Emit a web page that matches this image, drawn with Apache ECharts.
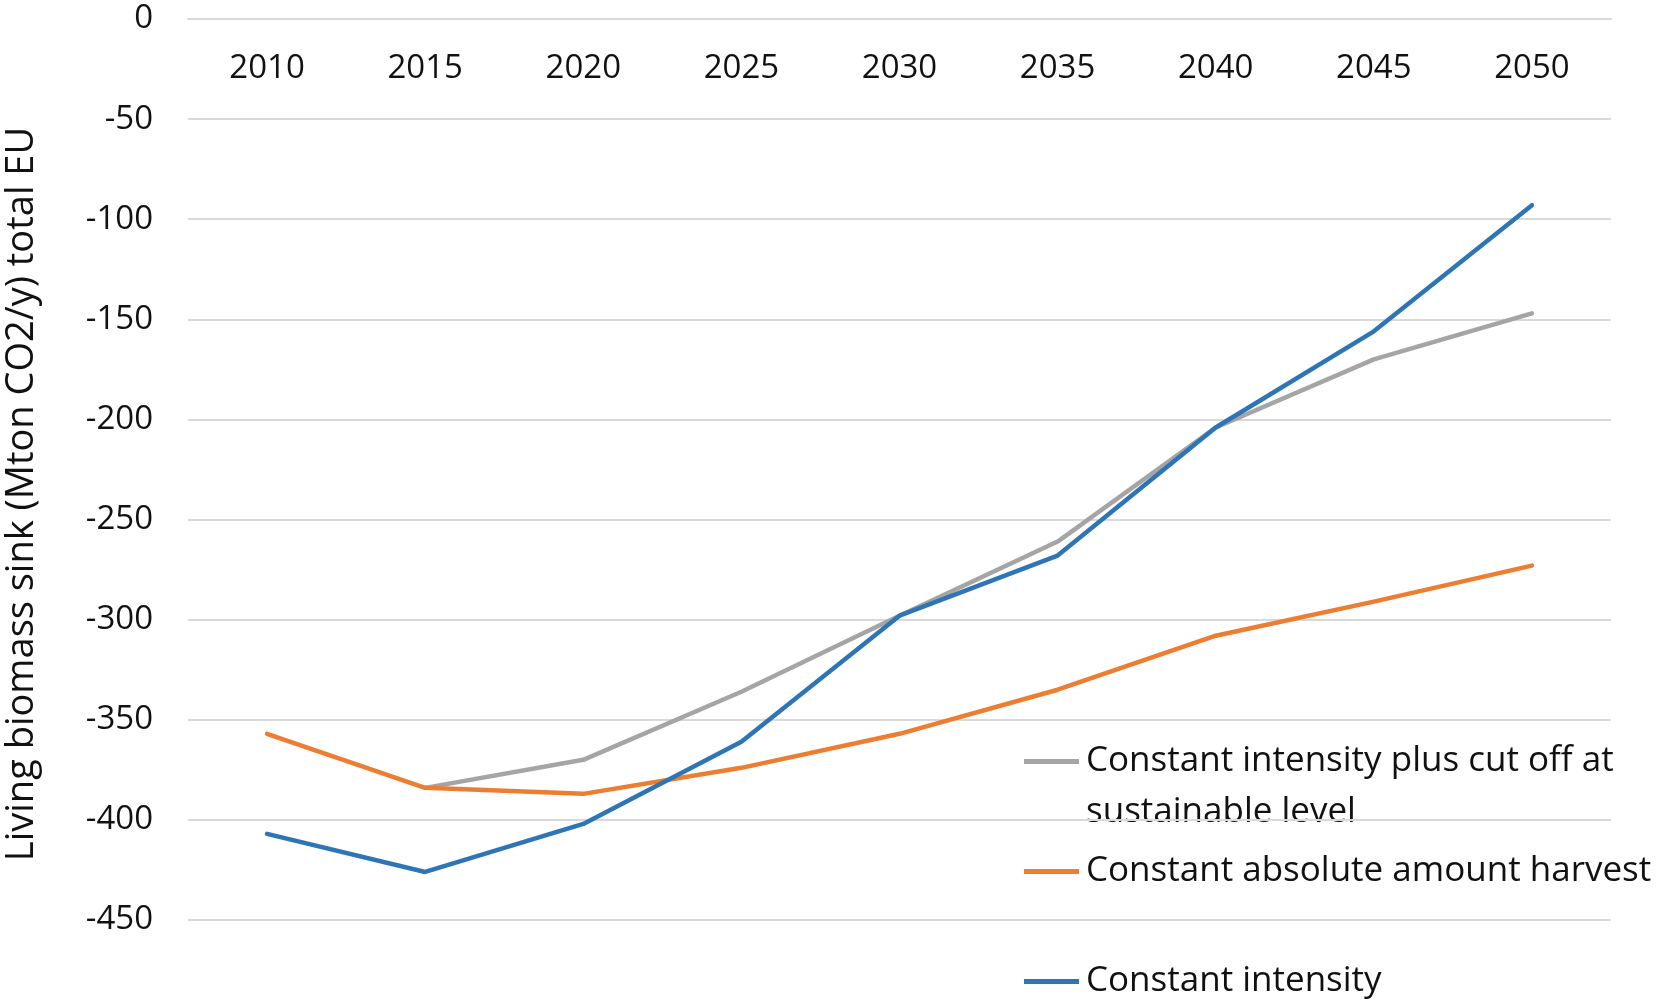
<!DOCTYPE html>
<html>
<head>
<meta charset="utf-8">
<script src="https://cdn.jsdelivr.net/npm/echarts@6/dist/echarts.min.js"></script>
<style>
html,body{margin:0;padding:0;background:#fff;}
#chart{width:1659px;height:1006px;}
</style>
</head>
<body>
<div id="chart"></div>
<script>
var years = ['2010','2015','2020','2025','2030','2035','2040','2045','2050'];
var seriesNames = ['Constant intensity plus cut off at sustainable level','Constant absolute amount harvest','Constant intensity'];
var cutOff = [null, -384, -370, -336, -298, -261, -204, -170, -147];
var absoluteHarvest = [-357, -384, -387, -374, -357, -335, -308, -291, -273];
var constantIntensity = [-407, -426, -402, -361, -298, -268, -204, -156, -93];
var yTicks = {min: -450, max: 0, interval: 50};
var yTitle = 'Living biomass sink (Mton CO2/y) total EU';

var FONT = '"Open Sans"';
var chart = echarts.init(document.getElementById('chart'), null, {renderer: 'canvas'});
function mk(name, data, color) {
  return {
    name: name, type: 'line', data: data, symbol: 'none', smooth: false,
    connectNulls: false,
    lineStyle: {color: color, width: 4.5, cap: 'round', join: 'round'},
    itemStyle: {color: color}
  };
}
chart.setOption({
  animation: false,
  backgroundColor: '#ffffff',
  grid: {left: 188, right: 48, top: 19, bottom: 86, containLabel: false},
  xAxis: {
    type: 'category', data: years, position: 'top', boundaryGap: true,
    axisLine: {show: true, lineStyle: {color: '#d9d9d9', width: 2}},
    axisTick: {show: false},
    axisLabel: {inside: true, margin: 33, color: '#111', fontFamily: FONT, fontSize: 33}
  },
  yAxis: {
    type: 'value', min: yTicks.min, max: yTicks.max, interval: yTicks.interval,
    axisLine: {show: false}, axisTick: {show: false},
    axisLabel: {margin: 35, color: '#111', fontFamily: FONT, fontSize: 33},
    splitLine: {lineStyle: {color: '#d9d9d9', width: 2}}
  },
  legend: {
    orient: 'vertical', left: 1024, top: 744, height: 300, width: 700, padding: 0,
    itemWidth: 55, itemHeight: 5, itemGap: 75,
    icon: 'rect',
    data: [
      {name: seriesNames[0]},
      {name: seriesNames[1]},
      {name: seriesNames[2]}
    ],
    formatter: function (n) {
      return n === seriesNames[0] ? 'Constant intensity plus cut off at' : n;
    },
    textStyle: {color: '#111', fontFamily: FONT, fontSize: 35, lineHeight: 32, padding: [0, 0, 0, 2]}
  },
  graphic: [
    {type: 'text', x: 1086, y: 812, style: {text: 'sustainable level', fill: '#111', font: '35px ' + FONT, verticalAlign: 'middle'}},
    {type: 'text', x: 22, y: 494, rotation: Math.PI / 2,
      style: {text: yTitle, fill: '#111', font: '38px ' + FONT, align: 'center', verticalAlign: 'middle'}}
  ],
  series: [
    mk(seriesNames[0], cutOff, '#A5A5A5'),
    mk(seriesNames[1], absoluteHarvest, '#ED7D31'),
    mk(seriesNames[2], constantIntensity, '#2E75B6')
  ]
});
</script>
</body>
</html>
